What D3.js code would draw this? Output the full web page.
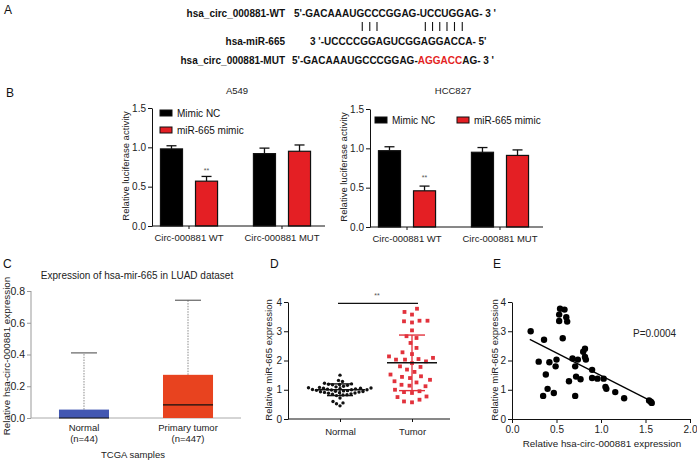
<!DOCTYPE html>
<html>
<head>
<meta charset="utf-8">
<script src="https://cdn.jsdelivr.net/npm/d3@7"></script>
<style>
  body { margin: 0; background: #fff; }
  svg { display: block; font-family: "Liberation Sans", Arial, Helvetica, sans-serif; }
</style>
</head>
<body>
<div id="chart"></div>
<script>
// ---- data ----
const seqNames = ["hsa_circ_000881-WT", "hsa-miR-665", "hsa_circ_000881-MUT"];
const wtSeq = "5'-GACAAAUGCCCGGAG-UCCUGGAG- 3 '";
const mirSeq = "3 '-UCCCCGGAGUCGGAGGACCA- 5'";
const mutSeqParts = ["5'-GACAAAUGCCCGGAG-", "AGGACC", "AG- 3 '"];
const pairIdx = [10, 11, 12, 19, 20, 21, 22, 23, 24];

const lucCats = ["Circ-000881 WT", "Circ-000881 MUT"];
const lucSeries = ["Mimic NC", "miR-665 mimic"];
const lucTicks = [0, 0.5, 1.0, 1.5];
const a549NC = [0.98, 0.92];
const a549NCErr = [0.04, 0.07];
const a549Mimic = [0.57, 0.95];
const a549MimicErr = [0.06, 0.08];
const hccNC = [0.97, 0.95];
const hccNCErr = [0.05, 0.06];
const hccMimic = [0.46, 0.91];
const hccMimicErr = [0.06, 0.07];

const boxCats = ["Normal", "Primary tumor"];
const boxN = ["(n=44)", "(n=447)"];
const boxTicks = [0, 0.2, 0.4, 0.6, 0.8];
const boxQ1 = [0, 0];
const boxMedian = [0, 0.083];
const boxQ3 = [0.053, 0.272];
const boxMax = [0.41, 0.742];

const dotCats = ["Normal", "Tumor"];
const dotTicks = [0, 1, 2, 3, 4];
const normalVals = [1.50, 1.32, 1.28, 1.22, 1.20, 1.19, 1.18, 1.17, 1.15, 1.12, 1.10, 1.08, 1.07, 1.06, 1.05, 1.05,
  1.04, 1.03, 1.02, 1.01, 1.00, 1.00, 0.99, 0.98, 0.97, 0.96, 0.95, 0.94, 0.93, 0.92, 0.91, 0.90, 0.89, 0.88,
  0.86, 0.85, 0.83, 0.82, 0.80, 0.72, 0.60, 0.55, 0.52, 0.45];
const tumorVals = [3.77, 3.66, 3.57, 3.36, 3.36, 3.34, 3.30, 3.03, 2.83, 2.77, 2.60, 2.43, 2.28, 2.22, 2.14, 2.09,
  2.05, 2.03, 2.03, 1.97, 1.91, 1.80, 1.78, 1.69, 1.61, 1.52, 1.46, 1.44, 1.40, 1.34, 1.29, 1.25, 1.17, 1.14,
  1.12, 1.00, 0.95, 0.92, 0.89, 0.77, 0.75, 0.66, 0.60, 0.57];
const groupMean = [1.0, 1.92];
const groupSD = [0.2, 0.95];
const sigLevel = 3.95;

const corrX = [0.21, 0.36, 0.30, 0.38, 0.40, 0.35, 0.42, 0.47, 0.50, 0.49, 0.54, 0.53, 0.53, 0.57, 0.59, 0.61,
  0.62, 0.64, 0.68, 0.71, 0.72, 0.74, 0.71, 0.77, 0.80, 0.82, 0.82, 0.83, 0.90, 0.90, 0.96, 1.03, 1.05, 1.06,
  1.16, 1.26, 1.54, 1.56, 1.57];
const corrY = [3.00, 2.71, 1.96, 1.52, 1.03, 0.79, 1.94, 0.89, 2.03, 1.80, 3.77, 3.57, 3.35, 2.76, 3.74, 3.48,
  3.33, 1.29, 2.07, 1.80, 1.45, 2.03, 0.79, 1.36, 2.30, 2.40, 2.12, 2.03, 1.68, 1.40, 1.38, 1.38, 1.10, 1.03,
  0.92, 0.71, 0.63, 0.59, 0.55];
const fitX = [0.2, 1.57];
const fitY = [2.72, 0.60];
const corrXTicks = [0, 0.5, 1.0, 1.5, 2.0];
const corrYTicks = [0, 1, 2, 3, 4];

const RED = "#e41f24";

const svg = d3.select("#chart").append("svg")
    .attr("width", 697)
    .attr("height", 461);

function panelLabel(t, x, y) {
    svg.append("text").attr("x", x).attr("y", y)
        .attr("font-size", 12).attr("fill", "#111").text(t);
}

function yTitle(g, text, x, y, size) {
    g.append("text")
        .attr("transform", `translate(${x},${y}) rotate(-90)`)
        .attr("text-anchor", "middle")
        .attr("font-size", size)
        .attr("fill", "#222")
        .text(text);
}

function styleAxis(sel, size, color) {
    sel.selectAll("text").attr("font-size", size).attr("fill", "#222").attr("font-family", null);
    sel.selectAll("line").attr("stroke", color);
    sel.select(".domain").attr("stroke", color);
}

// ---- A: sequences ----
panelLabel("A", 4, 14);
const aG = svg.append("g").attr("font-weight", "bold").attr("font-size", 10).attr("fill", "#111");
const seqY = [17, 45, 64];
aG.selectAll("text.name")
    .data(seqNames)
    .join("text")
    .attr("class", "name")
    .attr("x", 285)
    .attr("y", (d, i) => seqY[i])
    .attr("text-anchor", "end")
    .text(d => d);

const wtText = aG.append("text").attr("x", 294).attr("y", seqY[0]).text(wtSeq);
aG.append("text").attr("x", 310).attr("y", seqY[1]).text(mirSeq);
const mutText = aG.append("text").attr("x", 292).attr("y", seqY[2]);
mutText.selectAll("tspan")
    .data(mutSeqParts)
    .join("tspan")
    .attr("fill", (d, i) => i === 1 ? RED : "#111")
    .text(d => d);

// base-pair ticks sit under the paired letters of the WT line
pairIdx.forEach(i => {
    const b = wtText.node().getExtentOfChar(i);
    const cx = b.x + b.width / 2 + 2;
    aG.append("line")
        .attr("x1", cx).attr("x2", cx)
        .attr("y1", 22).attr("y2", 31)
        .attr("stroke", "#111").attr("stroke-width", 1.1);
});

// ---- B: luciferase bars ----
panelLabel("B", 6, 97);

function drawLuciferase(o) {
    const g = svg.append("g");
    const y = d3.scaleLinear().domain([0, 1.5]).range([o.y0, o.y0 - 118]);
    const x = d3.scaleBand().domain(lucCats).range([o.ax, o.ax + 167]).paddingInner(0.3).paddingOuter(0.048);
    const xs = d3.scaleBand().domain(lucSeries).range([0, x.bandwidth()]).paddingInner(0.371).paddingOuter(0.114);

    const rows = lucCats.flatMap((c, i) => [
        { c, s: lucSeries[0], v: o.nc[i], e: o.ncErr[i] },
        { c, s: lucSeries[1], v: o.mim[i], e: o.mimErr[i] }
    ]);
    const bx = d => x(d.c) + xs(d.s) + xs.bandwidth() / 2;

    g.selectAll(".err")
        .data(rows)
        .join("line")
        .attr("x1", bx).attr("x2", bx)
        .attr("y1", d => y(d.v)).attr("y2", d => y(d.v + d.e))
        .attr("stroke", "#111").attr("stroke-width", 1.3);
    g.selectAll(".cap")
        .data(rows)
        .join("line")
        .attr("x1", d => bx(d) - 5).attr("x2", d => bx(d) + 5)
        .attr("y1", d => y(d.v + d.e)).attr("y2", d => y(d.v + d.e))
        .attr("stroke", "#111").attr("stroke-width", 1.3);

    g.selectAll(".bar")
        .data(rows)
        .join("rect")
        .attr("x", d => x(d.c) + xs(d.s))
        .attr("y", d => y(d.v))
        .attr("width", xs.bandwidth())
        .attr("height", d => o.y0 - y(d.v))
        .attr("fill", d => d.s === lucSeries[0] ? "#000" : RED)
        .attr("stroke", "#111").attr("stroke-width", 1.2);

    g.append("text")
        .attr("x", x(lucCats[0]) + xs(lucSeries[1]) + xs.bandwidth() / 2)
        .attr("y", y(o.star))
        .attr("text-anchor", "middle")
        .attr("font-size", 7).attr("fill", "#555")
        .text("**");

    const ya = g.append("g")
        .attr("transform", `translate(${o.ax},0)`)
        .call(d3.axisLeft(y).tickValues(lucTicks).tickFormat(d3.format(".1f")).tickSize(4).tickSizeOuter(0).tickPadding(2));
    styleAxis(ya, 10, "#111");

    const xa = g.append("g")
        .attr("transform", `translate(0,${o.y0})`)
        .call(d3.axisBottom(x).tickSize(3).tickSizeOuter(0).tickPadding(5));
    xa.select(".domain").attr("d", `M${o.ax},0H${o.ax + 173}`);
    styleAxis(xa, 9.5, "#111");

    g.append("text")
        .attr("x", o.titleX).attr("y", 94)
        .attr("text-anchor", "middle").attr("font-size", 9.5).attr("fill", "#222")
        .text(o.title);

    yTitle(g, "Relative luciferase activity", o.ax - 23.5, o.y0 - 60, 9.5);

    const leg = g.selectAll(".leg")
        .data(lucSeries)
        .join("g")
        .attr("transform", (d, i) => `translate(${o.legend[i][0]},${o.legend[i][1]})`);
    leg.append("rect")
        .attr("x", 0).attr("y", -3).attr("width", 12).attr("height", 6)
        .attr("fill", (d, i) => i === 0 ? "#000" : RED)
        .attr("stroke", "#111").attr("stroke-width", 1);
    leg.append("text")
        .attr("x", 17).attr("y", 3.6)
        .attr("font-size", 10).attr("fill", "#111")
        .text(d => d);
}

drawLuciferase({
    ax: 152, y0: 226, title: "A549", titleX: 237, star: 0.68,
    nc: a549NC, ncErr: a549NCErr, mim: a549Mimic, mimErr: a549MimicErr,
    legend: [[160, 113], [160, 130]]
});
drawLuciferase({
    ax: 370, y0: 227, title: "HCC827", titleX: 453, star: 0.60,
    nc: hccNC, ncErr: hccNCErr, mim: hccMimic, mimErr: hccMimicErr,
    legend: [[375, 120], [457, 120]]
});

// ---- C: TCGA box plot ----
panelLabel("C", 3, 268);
{
    const g = svg.append("g");
    const y = d3.scaleLinear().domain([0, 0.8]).range([418, 291]);
    const x = d3.scaleBand().domain(boxCats).range([31, 241]).paddingInner(0.519).paddingOuter(0.269);
    const cx = i => x(boxCats[i]) + x.bandwidth() / 2;
    const colors = ["#4257b2", "#e8431f"];

    const ya = g.append("g")
        .attr("transform", "translate(31,0)")
        .call(d3.axisLeft(y).tickValues(boxTicks).tickFormat(d3.format(".1f")).tickSize(4).tickSizeOuter(0).tickPadding(2));
    styleAxis(ya, 10.5, "#999");
    ya.select(".domain").attr("d", "M0,418V291");

    g.append("line").attr("x1", 31).attr("x2", 241).attr("y1", 418).attr("y2", 418)
        .attr("stroke", "#aaa").attr("stroke-width", 1);

    boxCats.forEach((c, i) => {
        g.append("line")
            .attr("x1", cx(i)).attr("x2", cx(i))
            .attr("y1", y(boxQ3[i])).attr("y2", y(boxMax[i]))
            .attr("stroke", "#8a8a8a").attr("stroke-width", 1).attr("stroke-dasharray", "1.5,1.2");
        g.append("line")
            .attr("x1", cx(i) - 13).attr("x2", cx(i) + 13)
            .attr("y1", y(boxMax[i])).attr("y2", y(boxMax[i]))
            .attr("stroke", "#444").attr("stroke-width", 1);
        g.append("rect")
            .attr("x", x(c)).attr("y", y(boxQ3[i]))
            .attr("width", x.bandwidth()).attr("height", y(boxQ1[i]) - y(boxQ3[i]))
            .attr("fill", colors[i]);
        g.append("line")
            .attr("x1", x(c)).attr("x2", x(c) + x.bandwidth())
            .attr("y1", y(boxMedian[i])).attr("y2", y(boxMedian[i]))
            .attr("stroke", "#111").attr("stroke-width", 1.2);
        g.append("text").attr("x", cx(i)).attr("y", 431)
            .attr("text-anchor", "middle").attr("font-size", 9.5).attr("fill", "#222").text(c);
        g.append("text").attr("x", cx(i)).attr("y", 442)
            .attr("text-anchor", "middle").attr("font-size", 9.5).attr("fill", "#222").text(boxN[i]);
    });

    g.append("text").attr("x", 133).attr("y", 458)
        .attr("text-anchor", "middle").attr("font-size", 9.5).attr("fill", "#222").text("TCGA samples");
    g.append("text").attr("x", 137).attr("y", 279)
        .attr("text-anchor", "middle").attr("font-size", 10).attr("fill", "#222")
        .text("Expression of hsa-mir-665 in LUAD dataset");
    yTitle(g, "Relative hsa-circ-000881 expression", 10, 356, 9.8);
}

// ---- D: dot plot ----
panelLabel("D", 270, 268);

function beeswarm(vals, yScale, cx, r) {
    const placed = [];
    const pos = new Array(vals.length);
    const order = vals.map((v, i) => i).sort((a, b) => vals[a] - vals[b]);
    order.forEach(i => {
        const py = yScale(vals[i]);
        let px = cx;
        for (let k = 0; k < 400; k++) {
            const off = (k % 2 === 0 ? 1 : -1) * Math.ceil(k / 2) * 0.5;
            const cand = cx + off;
            if (placed.every(p => (p[0] - cand) ** 2 + (p[1] - py) ** 2 >= (2 * r) ** 2)) { px = cand; break; }
        }
        pos[i] = [px, py];
        placed.push(pos[i]);
    });
    return pos;
}

{
    const g = svg.append("g");
    const y = d3.scaleLinear().domain([0, 4]).range([419, 302]);
    const x = d3.scalePoint().domain(dotCats).range([340, 412]);

    const ya = g.append("g")
        .attr("transform", "translate(288,0)")
        .call(d3.axisLeft(y).tickValues(dotTicks).tickFormat(d3.format("d")).tickSize(4).tickSizeOuter(0).tickPadding(2));
    styleAxis(ya, 10, "#111");
    const xa = g.append("g")
        .attr("transform", "translate(0,419)")
        .call(d3.axisBottom(x).tickSize(3).tickSizeOuter(0).tickPadding(6));
    xa.select(".domain").attr("d", "M288,0H450");
    styleAxis(xa, 9.5, "#111");

    const nPos = beeswarm(normalVals, y, x("Normal"), 2.0);
    const tPos = beeswarm(tumorVals, y, x("Tumor"), 3.8);

    g.selectAll(".np")
        .data(nPos)
        .join("circle")
        .attr("cx", d => d[0]).attr("cy", d => d[1]).attr("r", 1.7)
        .attr("fill", "#111");
    g.selectAll(".tp")
        .data(tPos)
        .join("rect")
        .attr("x", d => d[0] - 1.9).attr("y", d => d[1] - 1.9)
        .attr("width", 3.8).attr("height", 3.8)
        .attr("fill", "#e2323c");

    const statColor = ["#111", "#e2323c"];
    dotCats.forEach((c, i) => {
        const cx = x(c);
        const hi = y(groupMean[i] + groupSD[i]);
        const lo = y(groupMean[i] - groupSD[i]);
        g.append("line").attr("x1", cx).attr("x2", cx).attr("y1", hi).attr("y2", lo)
            .attr("stroke", statColor[i]).attr("stroke-width", 1.3);
        [hi, lo].forEach(yy => g.append("line")
            .attr("x1", cx - 13).attr("x2", cx + 13).attr("y1", yy).attr("y2", yy)
            .attr("stroke", statColor[i]).attr("stroke-width", 1.4));
        g.append("line")
            .attr("x1", cx - 25).attr("x2", cx + 25)
            .attr("y1", y(groupMean[i])).attr("y2", y(groupMean[i]))
            .attr("stroke", "#111").attr("stroke-width", 1.5);
    });

    g.append("line")
        .attr("x1", x("Normal") - 2).attr("x2", x("Tumor") + 6)
        .attr("y1", y(sigLevel)).attr("y2", y(sigLevel))
        .attr("stroke", "#111").attr("stroke-width", 1.2);
    g.append("text").attr("x", 377).attr("y", y(sigLevel) - 5)
        .attr("text-anchor", "middle").attr("font-size", 7).attr("fill", "#555").text("**");

    yTitle(g, "Relative miR-665 expression", 271.5, 360, 9.5);
}

// ---- E: correlation ----
panelLabel("E", 493, 268);
{
    const g = svg.append("g");
    const x = d3.scaleLinear().domain([0, 2]).range([512, 690]);
    const y = d3.scaleLinear().domain([0, 4]).range([419, 302]);

    const ya = g.append("g")
        .attr("transform", "translate(512,0)")
        .call(d3.axisLeft(y).tickValues(corrYTicks).tickFormat(d3.format("d")).tickSize(4).tickSizeOuter(0).tickPadding(2));
    styleAxis(ya, 10, "#111");
    const xa = g.append("g")
        .attr("transform", "translate(0,419)")
        .call(d3.axisBottom(x).tickValues(corrXTicks).tickFormat(d3.format(".1f")).tickSize(4).tickSizeOuter(0).tickPadding(3));
    styleAxis(xa, 10, "#111");

    g.selectAll(".pt")
        .data(corrX)
        .join("circle")
        .attr("cx", d => x(d))
        .attr("cy", (d, i) => y(corrY[i]))
        .attr("r", 3.2)
        .attr("fill", "#000");

    g.append("line")
        .attr("x1", x(fitX[0])).attr("x2", x(fitX[1]))
        .attr("y1", y(fitY[0])).attr("y2", y(fitY[1]))
        .attr("stroke", "#000").attr("stroke-width", 1.3);

    g.append("text").attr("x", 633).attr("y", 337)
        .attr("font-size", 10).attr("fill", "#222").text("P=0.0004");
    g.append("text").attr("x", 602).attr("y", 447)
        .attr("text-anchor", "middle").attr("font-size", 9.8).attr("fill", "#222")
        .text("Relative hsa-circ-000881 expression");
    yTitle(g, "Relative miR-665 expression", 497.5, 360, 9.5);
}
</script>
</body>
</html>
